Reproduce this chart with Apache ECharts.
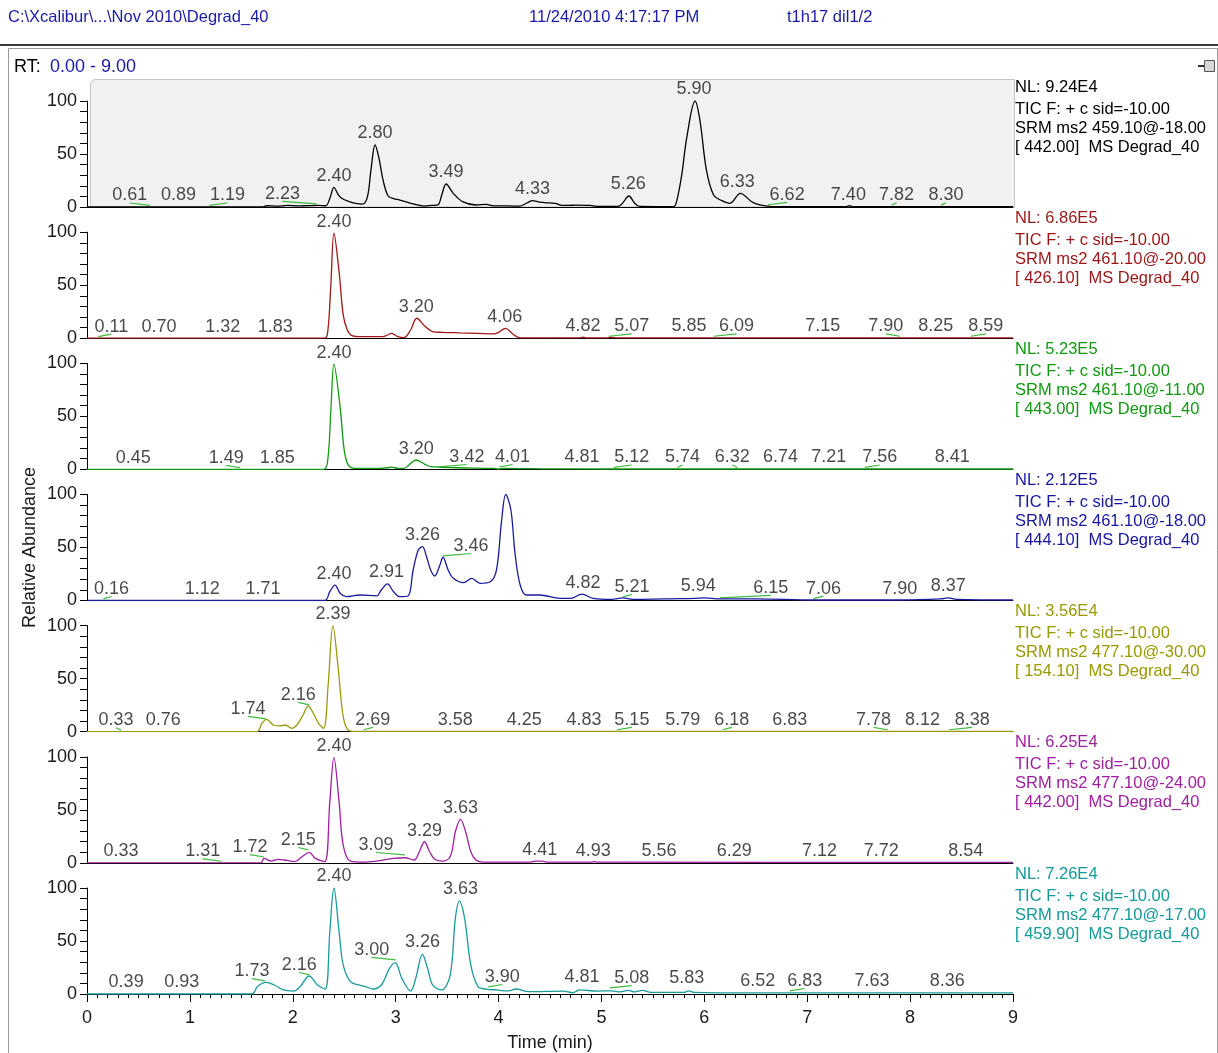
<!DOCTYPE html>
<html>
<head>
<meta charset="utf-8">
<script src="https://cdn.jsdelivr.net/npm/echarts@6/dist/echarts.min.js"></script>
<style>
html,body{margin:0;padding:0;background:#fff;}
#main{width:1218px;height:1053px;}
</style>
</head>
<body>
<div id="main"></div>
<script>
// ---------- data ----------
const timeTicks = [0,1,2,3,4,5,6,7,8,9];
const yTickLabels = [0,50,100];

const trace1 = [[0,0],[1.70,0],[1.75,1.2],[1.85,0.8],[1.95,1.5],[2.05,1],[2.15,1.3],[2.25,1.5],[2.32,1.2],[2.36,8],[2.40,18.6],[2.44,12],[2.475,8.2],[2.55,5],[2.61,3.5],[2.68,2.8],[2.726,9.7],[2.76,35],[2.80,58.5],[2.84,45],[2.877,25.5],[2.927,10.4],[2.98,8],[3.04,6.6],[3.145,3.5],[3.28,0.9],[3.35,1.5],[3.41,1.9],[3.45,12],[3.49,21.7],[3.56,12.9],[3.65,5],[3.78,1.9],[3.88,2.5],[3.95,1],[4.10,1],[4.20,0.8],[4.28,4],[4.33,6],[4.40,4.5],[4.50,3.8],[4.55,3.5],[4.62,1.5],[4.68,1.5],[4.75,1.8],[4.89,1.5],[4.95,0.6],[5.16,0.6],[5.20,3],[5.267,10.4],[5.32,4],[5.37,0.5],[5.70,0.3],[5.73,5],[5.78,30],[5.83,66],[5.91,100],[5.957,82],[6.02,35],[6.09,11.3],[6.17,6],[6.25,3.5],[6.35,12.9],[6.46,5],[6.54,1.9],[6.64,0.6],[7.38,0.3],[7.41,1.2],[7.44,0.3],[9,0.3]];
const trace2 = [[0,0],[2.31,0],[2.34,6.2],[2.37,50],[2.40,99],[2.45,62.7],[2.49,21.9],[2.53,7.7],[2.575,2.4],[2.65,1.5],[2.876,1.5],[2.92,3],[2.96,4.6],[3.02,1.5],[3.08,0.5],[3.145,7.7],[3.205,18.8],[3.28,11.8],[3.36,6.2],[3.45,5.5],[3.62,5],[3.80,4.5],[3.95,4],[4.01,6],[4.065,9.3],[4.15,3],[4.215,0.2],[4.78,0.2],[4.82,1],[4.86,0.2],[5.05,0.3],[5.10,0.8],[5.15,0.2],[9,0.2]];
const trace3 = [[0,0],[2.30,0],[2.34,8.8],[2.37,55],[2.40,99.3],[2.46,59],[2.50,18.2],[2.54,4],[2.61,0.9],[2.85,0.9],[2.92,1.5],[2.96,2],[3.02,1],[3.08,0.9],[3.14,5],[3.195,8.8],[3.28,5],[3.345,2.5],[3.60,1.5],[3.95,0.9],[4.00,0.3],[4.05,0.9],[4.5,0.5],[5.0,0.3],[9,0.3]];
const trace4 = [[0,0],[2.31,0],[2.36,8.3],[2.41,14.6],[2.46,6.8],[2.52,3.6],[2.65,5.2],[2.815,4.4],[2.86,9.9],[2.92,15.6],[2.98,8.3],[3.04,3.6],[3.12,4.2],[3.17,28.8],[3.22,47.6],[3.26,50.8],[3.30,41.3],[3.34,28.8],[3.38,23.1],[3.43,33.5],[3.46,40.8],[3.51,28.8],[3.56,20.9],[3.66,16.8],[3.74,20.9],[3.82,16.2],[3.92,17.7],[3.98,28.8],[4.03,75.9],[4.07,100],[4.12,85.4],[4.16,44.5],[4.21,14.6],[4.27,5.2],[4.40,5.2],[4.60,2],[4.70,2],[4.81,6.1],[4.92,2],[5.10,1],[5.21,2.5],[5.30,1],[5.90,2],[6.0,2.5],[6.15,1.5],[6.5,1.5],[7.06,0.5],[7.90,0.5],[8.30,1.5],[8.37,2.5],[8.45,1],[9,0.5]];
const trace5 = [[0,0],[1.65,0],[1.70,7.9],[1.745,11.7],[1.81,6.3],[1.875,5.4],[1.93,6.3],[1.99,3.2],[2.04,6.3],[2.10,15.7],[2.15,24.2],[2.20,17.3],[2.25,7.9],[2.30,3.2],[2.345,45.7],[2.39,100],[2.44,61.3],[2.485,17.3],[2.525,3.2],[2.58,0.3],[9,0.3]];
const trace6 = [[0,0],[1.69,0],[1.72,4.2],[1.79,1.7],[1.86,3.3],[1.92,2.7],[2.02,1.2],[2.09,5.8],[2.16,9.9],[2.22,4.2],[2.31,1.2],[2.36,57.6],[2.40,99.2],[2.45,57.6],[2.49,16.8],[2.56,1.7],[2.70,0.7],[2.81,1.7],[2.98,4.2],[3.09,4.8],[3.18,2.7],[3.23,10.5],[3.28,19.9],[3.33,10.5],[3.38,3.3],[3.45,1.7],[3.53,5.8],[3.58,29.3],[3.63,41],[3.68,29.3],[3.73,10.5],[3.78,2.7],[3.85,0.6],[4.30,0.6],[4.36,1.7],[4.42,1.7],[4.48,0.6],[4.90,0.6],[4.93,1.2],[4.97,0.6],[9,0.5]];
const trace7 = [[0,0],[1.605,0],[1.655,6.9],[1.74,11],[1.82,8.5],[1.91,3.8],[2.01,2.8],[2.07,6.9],[2.16,17],[2.24,8.5],[2.315,4.7],[2.36,58.8],[2.40,100],[2.45,58.8],[2.49,27.4],[2.56,11.6],[2.64,8.5],[2.71,6.9],[2.78,4.7],[2.86,8.5],[2.94,24.2],[2.995,29.6],[3.06,14.8],[3.145,2.8],[3.195,14.8],[3.26,37.4],[3.31,24.2],[3.36,8.5],[3.445,3.8],[3.53,17.9],[3.58,71.4],[3.62,87.7],[3.67,71.4],[3.73,27.4],[3.80,6.9],[3.88,4.7],[3.98,3.8],[4.10,3],[4.17,4.7],[4.29,2.2],[4.63,2.8],[4.72,1.2],[4.79,3.8],[4.96,2.8],[5.10,3],[5.18,2],[5.26,3.5],[5.32,2],[5.40,3.5],[5.48,1.5],[5.80,1.5],[5.85,3],[5.90,1.5],[6.5,1],[9,1]];

// peak labels: [retention time, height of label anchor]
const labels1 = [[0.61,0],[0.89,0],[1.19,0],[2.23,1.5],[2.40,18.6],[2.80,58.5],[3.49,21.7],[4.33,6],[5.26,10.4],[5.90,100],[6.33,12.9],[6.62,0.6],[7.40,0.6],[7.82,0.3],[8.30,0.3]];
const labels2 = [[0.11,0],[0.70,0],[1.32,0],[1.83,0],[2.40,99],[3.20,18.6],[4.06,9.2],[4.82,0.3],[5.07,0.3],[5.85,0.3],[6.09,0.3],[7.15,0.3],[7.90,0.3],[8.25,0.3],[8.59,0.3]];
const labels3 = [[0.45,0],[1.49,0],[1.85,0],[2.40,99.2],[3.20,8.3],[3.42,0.8],[4.01,0.8],[4.81,0.3],[5.12,0.3],[5.74,0.3],[6.32,0.3],[6.74,0.3],[7.21,0.3],[7.56,0.3],[8.41,0.3]];
const labels4 = [[0.16,0],[1.12,0],[1.71,0],[2.40,14.6],[2.91,15.6],[3.26,50.8],[3.46,40.6],[4.07,100.5],[4.82,6.1],[5.21,1.9],[5.94,2.8],[6.15,1],[7.06,0.3],[7.90,0.3],[8.37,3]];
const labels5 = [[0.33,0],[0.76,0],[1.74,10.6],[2.16,23.8],[2.39,100],[2.69,0.3],[3.58,0.3],[4.25,0.3],[4.83,0.3],[5.15,0.3],[5.79,0.3],[6.18,0.3],[6.83,0.3],[7.78,0.3],[8.12,0.3],[8.38,0.3]];
const labels6 = [[0.33,0],[1.31,0],[1.72,4],[2.15,10.7],[2.40,99.2],[3.09,6],[3.29,19],[3.63,41],[4.41,1.2],[4.93,0.6],[5.56,0.3],[6.29,0.3],[7.12,0.3],[7.72,0.3],[8.54,0.3]];
const labels7 = [[0.39,0],[0.93,0],[1.73,10.8],[2.16,16.5],[2.40,100],[3.00,30.7],[3.26,38.2],[3.63,88],[3.90,5.2],[4.81,5.2],[5.08,4.2],[5.83,4.2],[6.52,1.4],[6.83,1.4],[7.63,1.4],[8.36,1.4]];

// horizontal label displacement (px) applied by the original software to avoid overlaps
const shift1 = [-20,0,18,-34,0,0,0,0,0,0,-1,19,0,5,5];
const shift2 = [13,0,0,0,0,0,0,0,23,0,23,0,-14,0,15];
const shift3 = [0,-14,0,0,0,28,13,0,18,5,-5,0,0,15,0];
const shift4 = [8,0,0,0,0,0,28,0,0,9,0,51,10,0,0];
const shift5 = [-5,-2,-18,-11,0,9,0,0,0,15,0,9,0,-14,0,23];
const shift6 = [0,-19,-14,-10,0,-29,-1,0,-1,-1,0,0,0,0,0];
const shift7 = [-1,-1,-13,-10,0,-24,0,0,14,0,22,0,0,15,0,0];

const nlValues = ['9.24E4','6.86E5','5.23E5','2.12E5','3.56E4','6.25E4','7.26E4'];
const srmLines = ['SRM ms2 459.10@-18.00','SRM ms2 461.10@-20.00','SRM ms2 461.10@-11.00','SRM ms2 461.10@-18.00','SRM ms2 477.10@-30.00','SRM ms2 477.10@-24.00','SRM ms2 477.10@-17.00'];
const massLines = ['[ 442.00]  MS Degrad_40','[ 426.10]  MS Degrad_40','[ 443.00]  MS Degrad_40','[ 444.10]  MS Degrad_40','[ 154.10]  MS Degrad_40','[ 442.00]  MS Degrad_40','[ 459.90]  MS Degrad_40'];
const ticLine = 'TIC F: + c sid=-10.00';

const traces = [trace1,trace2,trace3,trace4,trace5,trace6,trace7];
const labelSets = [labels1,labels2,labels3,labels4,labels5,labels6,labels7];
const shiftSets = [shift1,shift2,shift3,shift4,shift5,shift6,shift7];
const colors = ['#000000','#a01818','#129a12','#1a1aa0','#9a9a10','#a01ea0','#1a9a9a'];
const textColors = ['#000000','#9b1414','#0f990f','#1616a0','#999900','#a01ea0','#129a9a'];

// ---------- layout ----------
const FONT = '"Liberation Sans", Arial, sans-serif';
const LEFT = 87, RIGHT_X = 1013;
const BASE0 = 207, STEP = 131.17, H = 106;
const PX_PER_MIN = (RIGHT_X - LEFT) / 9, PX_PER_UNIT = H / 100;
const LABEL_DIST = 2;
const baselines = [0,1,2,3,4,5,6].map(i => BASE0 + STEP * i);

const grids = [], xAxes = [], yAxes = [], series = [];
baselines.forEach((b, i) => {
  grids.push({left: LEFT, width: RIGHT_X - LEFT, top: b - H, height: H, containLabel: false});
  const last = i === 6;
  xAxes.push({
    type: 'value', gridIndex: i, min: timeTicks[0], max: timeTicks[timeTicks.length-1], interval: 1,
    axisLine: {show: true, onZero: false, lineStyle: {color: '#000', width: 1}},
    axisTick: {show: last, length: 8, lineStyle: {color: '#000'}},
    minorTick: {show: last, splitNumber: 10, length: 4, lineStyle: {color: '#000'}},
    splitLine: {show: false},
    axisLabel: {show: last, fontSize: 18, color: '#1a1a1a', fontFamily: FONT, margin: 15},
    name: last ? 'Time (min)' : '', nameLocation: 'middle', nameGap: 40,
    nameTextStyle: {fontSize: 18, color: '#1a1a1a', fontFamily: FONT}
  });
  yAxes.push({
    type: 'value', gridIndex: i, min: 0, max: 100, interval: 10,
    axisLine: {show: true, lineStyle: {color: '#000', width: 1}},
    axisTick: {show: true, length: 7, lineStyle: {color: '#000'}},
    splitLine: {show: false},
    axisLabel: {fontSize: 18, color: '#1a1a1a', fontFamily: FONT, margin: 10,
      formatter: v => (yTickLabels.indexOf(v) >= 0 ? String(v) : '')}
  });
  // green leader lines from a peak to its displaced label
  const segData = [];
  labelSets[i].forEach((l, j) => {
    const s = shiftSets[i][j];
    if (Math.abs(s) >= 3) {
      segData.push([l[0], l[1] + 1.5], [l[0] + s / PX_PER_MIN, l[1] + (LABEL_DIST + 2) / PX_PER_UNIT], [null, null]);
    }
  });
  series.push({
    type: 'line', xAxisIndex: i, yAxisIndex: i, data: segData, connectNulls: false,
    showSymbol: false, symbol: 'none', lineStyle: {color: '#3dbb3d', width: 1.2}, z: 2, animation: false, silent: true
  });
  series.push({
    type: 'line', xAxisIndex: i, yAxisIndex: i, data: traces[i],
    showSymbol: false, symbol: 'none', smooth: 0.35,
    lineStyle: {color: colors[i], width: 1.3}, z: 3, animation: false
  });
  const shifts = shiftSets[i];
  series.push({
    type: 'scatter', xAxisIndex: i, yAxisIndex: i, data: labelSets[i],
    symbolSize: 1, itemStyle: {color: 'rgba(0,0,0,0)'}, z: 4, animation: false, silent: true,
    label: {show: true, position: 'top', distance: LABEL_DIST, fontSize: 18, color: '#1a1a1a',
      fontFamily: FONT, formatter: p => p.value[0].toFixed(2)},
    labelLayout: p => ({dx: shifts[p.dataIndex] || 0, hideOverlap: false})
  });
});

// ---------- decorations ----------
const graphics = [];
function txt(x, y, text, color, size, extra) {
  return Object.assign({type: 'text', x: x, y: y, silent: true,
    style: {text: text, fill: color, font: size + 'px ' + FONT, textVerticalAlign: 'middle', verticalAlign: 'middle', textAlign: 'left', align: 'left'}}, extra || {});
}
graphics.push({type: 'rect', z: -1, silent: true, shape: {x: 90.5, y: 79.5, width: 924, height: BASE0 - 79.5, r: [5,0,0,0]},
  style: {fill: '#f1f1f1', stroke: '#c4c4c4', lineWidth: 1}});
graphics.push({type: 'line', silent: true, shape: {x1: 0, y1: 45, x2: 1218, y2: 45}, style: {stroke: '#3a3a3a', lineWidth: 2}});
graphics.push({type: 'polyline', silent: true, shape: {points: [[8.5, 1053], [8.5, 48.5], [1217.5, 48.5], [1217.5, 1053]]}, style: {stroke: '#9a9a9a', lineWidth: 1, fill: null}});
graphics.push(txt(8, 17, 'C:\\Xcalibur\\...\\Nov 2010\\Degrad_40', '#1a1aa6', 16.5));
graphics.push(txt(529, 17, '11/24/2010 4:17:17 PM', '#1a1aa6', 16.5));
graphics.push(txt(787, 17, 't1h17 dil1/2', '#1a1aa6', 16.5));
graphics.push(txt(14, 67, 'RT:', '#000', 18));
graphics.push(txt(50, 67, '0.00 - 9.00', '#1a1aa6', 18));
graphics.push({type: 'rect', silent: true, shape: {x: 1204.5, y: 60.5, width: 10, height: 11}, style: {fill: '#d8d8d8', stroke: '#555', lineWidth: 1}});
graphics.push({type: 'line', silent: true, shape: {x1: 1198, y1: 66, x2: 1204, y2: 66}, style: {stroke: '#333', lineWidth: 2}});
graphics.push({type: 'text', silent: true, x: 30, y: (baselines[0] - H + baselines[6]) / 2, rotation: Math.PI / 2,
  style: {text: 'Relative Abundance', fill: '#1a1a1a', font: '18px ' + FONT, textAlign: 'center', align: 'center', textVerticalAlign: 'middle', verticalAlign: 'middle'}});
baselines.forEach((b, i) => {
  const top = 87 + STEP * i;
  graphics.push(txt(1015, top, 'NL: ' + nlValues[i], textColors[i], 16.5));
  graphics.push(txt(1015, top + 22, ticLine, textColors[i], 16.5));
  graphics.push(txt(1015, top + 41, srmLines[i], textColors[i], 16.5));
  graphics.push(txt(1015, top + 60, massLines[i], textColors[i], 16.5));
});

const chart = echarts.init(document.getElementById('main'), null, {renderer: 'canvas'});
chart.setOption({
  animation: false,
  backgroundColor: '#ffffff',
  grid: grids, xAxis: xAxes, yAxis: yAxes, series: series,
  graphic: graphics
});
</script>
</body>
</html>
